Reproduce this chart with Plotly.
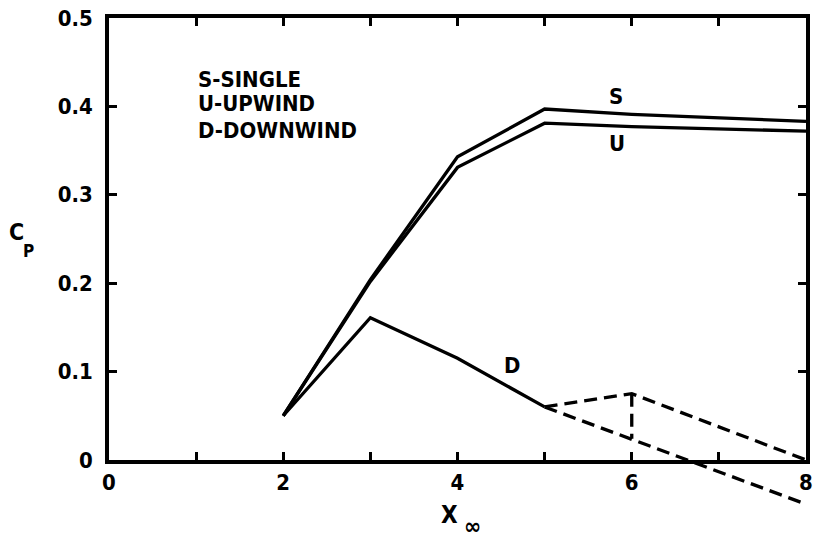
import plotly.graph_objects as go

# ---- data ----
x_su = [2, 3, 4, 5, 6, 8]
cp_single = [0.050, 0.204, 0.343, 0.397, 0.391, 0.383]
cp_upwind = [0.050, 0.202, 0.331, 0.381, 0.377, 0.372]

x_down = [2, 3, 4, 5]
cp_down = [0.050, 0.161, 0.115, 0.060]

x_dash_upper = [5, 6, 8]
cp_dash_upper = [0.060, 0.075, 0.000]
x_dash_lower = [5, 8]
cp_dash_lower = [0.060, -0.050]
x_dash_vert = [6, 6]
cp_dash_vert = [0.075, 0.024]

x_ticks = [0, 2, 4, 6, 8]
x_ticktext = ["0", "2", "4", "6", "8"]
y_ticks = [0, 0.1, 0.2, 0.3, 0.4, 0.5]
y_ticktext = ["0", "0.1", "0.2", "0.3", "0.4", "0.5"]

legend_lines = ["S-SINGLE", "U-UPWIND", "D-DOWNWIND"]

Y_MIN = -0.06
Y_MAX = 0.5
FONT = "DejaVu Sans Condensed, DejaVu Sans, sans-serif"
LW = 3.3
DASH = "13px,7px"

fig = go.Figure()

# solid curves on the framed axes
for xs, ys in [(x_su, cp_single), (x_su, cp_upwind), (x_down, cp_down)]:
    fig.add_trace(go.Scatter(x=xs, y=ys, mode="lines", xaxis="x2", yaxis="y2",
                             line=dict(color="black", width=LW), showlegend=False,
                             hoverinfo="skip"))

# dashed curves on the full-height (unframed) axes so they can run below zero
for xs, ys in [(x_dash_upper, cp_dash_upper), (x_dash_lower, cp_dash_lower),
               (x_dash_vert, cp_dash_vert)]:
    fig.add_trace(go.Scatter(x=xs, y=ys, mode="lines", xaxis="x", yaxis="y",
                             line=dict(color="black", width=LW, dash=DASH),
                             showlegend=False, hoverinfo="skip"))

frac0 = (0 - Y_MIN) / (Y_MAX - Y_MIN)

axis_common = dict(showline=True, linecolor="black", linewidth=3.5, mirror="ticks",
                   ticks="inside", ticklen=8, tickwidth=3, tickcolor="black",
                   showgrid=False, zeroline=False,
                   tickfont=dict(family=FONT, size=22, color="black", weight="bold"))

fig.update_layout(
    width=819, height=544,
    margin=dict(l=109, r=6, t=18, b=31),
    paper_bgcolor="white", plot_bgcolor="rgba(0,0,0,0)",
    xaxis=dict(domain=[0, 1], range=[0, 8], visible=False, showticklabels=False,
               anchor="y"),
    yaxis=dict(domain=[0, 1], range=[Y_MIN, Y_MAX], visible=False,
               showticklabels=False, anchor="x"),
    xaxis2=dict(domain=[0, 1], range=[0, 8], anchor="y2",
                tickvals=x_ticks, ticktext=x_ticktext, ticklabelstandoff=0,
                minor=dict(ticks="inside", ticklen=8, tickwidth=3, tickcolor="black",
                           dtick=1, showgrid=False),
                **axis_common),
    yaxis2=dict(domain=[frac0, 1], range=[0, Y_MAX], anchor="x2",
                tickvals=y_ticks, ticktext=y_ticktext, ticklabelstandoff=8,
                **axis_common),
)

txt_font = dict(family=FONT, size=22, color="black", weight="bold")

# legend block
for t, yv in zip(legend_lines, [0.430, 0.403, 0.373]):
    fig.add_annotation(x=1.0, y=yv, xref="x2", yref="y2", text=t, showarrow=False,
                       xanchor="left", yanchor="middle", font=txt_font)

# curve labels
for t, xv, yv in [("S", 5.82, 0.411), ("U", 5.83, 0.358), ("D", 4.62, 0.107)]:
    fig.add_annotation(x=xv, y=yv, xref="x2", yref="y2", text=t, showarrow=False,
                       xanchor="center", yanchor="middle", font=txt_font)

# axis titles (symbol + subscript placed separately)
title_parts = [
    ("C", -0.132, 0.568, 23),
    ("P", -0.1155, 0.530, 17),
    ("X", 0.4886, -0.004, 24),
    ("∞", 0.521, -0.026, 23),
]
for t, xp, yp, sz in title_parts:
    fig.add_annotation(x=xp, y=yp, xref="paper", yref="paper", text=t,
                       showarrow=False, xanchor="center", yanchor="middle",
                       font=dict(family=FONT, size=sz, color="black", weight="bold"))

fig.write_html("out.html", config={"displayModeBar": False},
               post_script="document.body.style.margin='0';")
